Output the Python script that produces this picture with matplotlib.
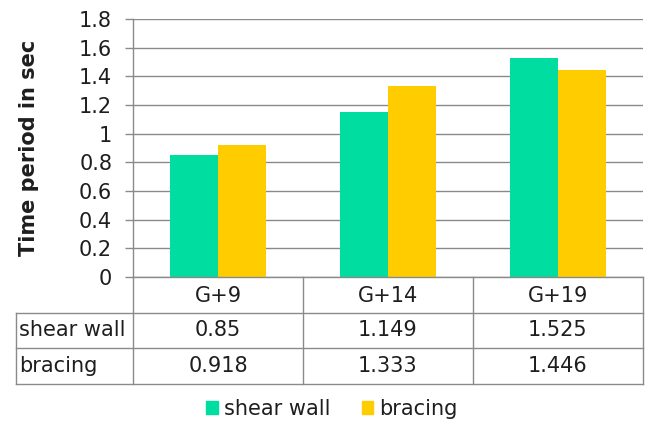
import numpy as np
import matplotlib.pyplot as plt
from matplotlib.patches import Patch

categories = ['G+9', 'G+14', 'G+19']
series_names = ['shear wall', 'bracing']
shear_wall = [0.85, 1.149, 1.525]
bracing = [0.918, 1.333, 1.446]
value_labels = [['0.85', '1.149', '1.525'], ['0.918', '1.333', '1.446']]
yticks = [0, 0.2, 0.4, 0.6, 0.8, 1, 1.2, 1.4, 1.6, 1.8]
ytick_labels = ['0', '0.2', '0.4', '0.6', '0.8', '1', '1.2', '1.4', '1.6', '1.8']

green = '#00DDA0'
yellow = '#FFCC00'
grid_c = '#8a8a8a'
txt_c = '#1e1e1e'
fs = 15

plt.rcParams['font.family'] = 'DejaVu Sans'

W, H = 649, 428
fig = plt.figure(figsize=(W / 100, H / 100), dpi=100)

# bar area
ax = fig.add_axes([133 / W, 1 - 277 / H, 510 / W, 258 / H])
x = np.arange(len(categories))
bw = 0.285
ax.bar(x - bw / 2, shear_wall, bw, color=green, zorder=3)
ax.bar(x + bw / 2, bracing, bw, color=yellow, zorder=3)
ax.set_xlim(-0.5, 2.5)
ax.set_ylim(0, 1.8)
ax.set_yticks(yticks)
ax.set_yticklabels(ytick_labels, fontsize=fs, color=txt_c)
ax.yaxis.grid(True, color=grid_c, linewidth=1.0, zorder=0)
ax.tick_params(axis='y', length=6, width=1.0, color=grid_c, pad=9)
ax.set_xticks([])
for s in ['top', 'right', 'bottom']:
    ax.spines[s].set_visible(False)
ax.spines['left'].set_color(grid_c)
ax.spines['left'].set_linewidth(1.0)
ax.set_ylabel('Time period in sec', fontsize=fs, fontweight='bold', color=txt_c)
ax.yaxis.set_label_coords(-0.185, 0.5)

# data table under the bars
tab = fig.add_axes([133 / W, 1 - 384 / H, 510 / W, 107 / H], sharex=ax)
tab.set_ylim(3, 0)
tab.axis('off')
xl = -0.5 - 117 / 170
kw = dict(color=grid_c, linewidth=1.0, clip_on=False)
tab.plot([-0.5, 2.5], [0, 0], **kw)
for r in [1, 2, 3]:
    tab.plot([xl, 2.5], [r, r], **kw)
for c in [-0.5, 0.5, 1.5, 2.5]:
    tab.plot([c, c], [0, 3], **kw)
tab.plot([xl, xl], [1, 3], **kw)

for i, cat in enumerate(categories):
    tab.text(i, 0.52, cat, ha='center', va='center', fontsize=fs, color=txt_c)
for r, name in enumerate(series_names):
    tab.text(xl + 0.02, r + 1.5, name, ha='left', va='center', fontsize=fs,
             color=txt_c, clip_on=False)
    for i in range(len(categories)):
        tab.text(i, r + 1.5, value_labels[r][i], ha='center', va='center',
                 fontsize=fs, color=txt_c)

handles = [Patch(color=green), Patch(color=yellow)]
fig.legend(handles, series_names, loc='center', bbox_to_anchor=(332 / W, 1 - 409 / H),
           ncol=2, frameon=False, fontsize=fs, handlelength=0.55, handleheight=0.55,
           handletextpad=0.3, columnspacing=1.5, labelcolor=txt_c)

fig.savefig('out.png', dpi=100)
